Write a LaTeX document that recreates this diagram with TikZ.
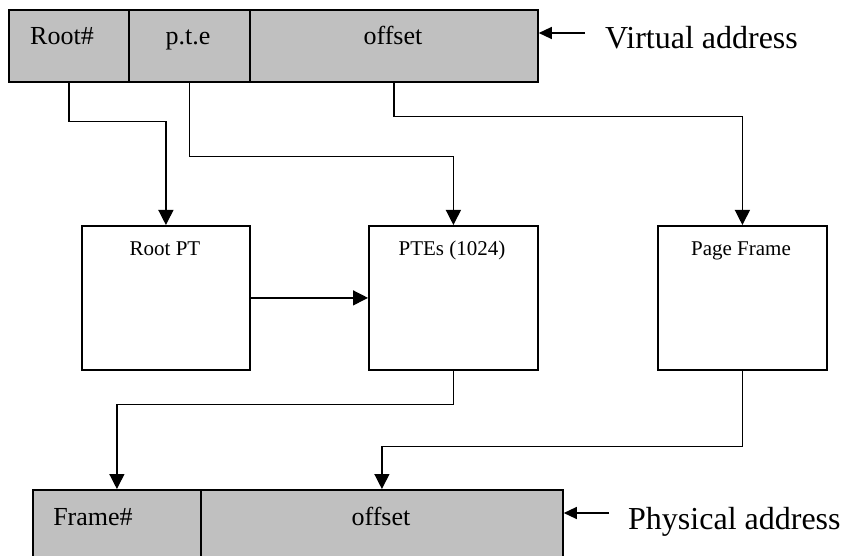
\documentclass[tikz,border=0pt]{standalone}
\usepackage{fontspec}
\setmainfont{Liberation Serif}
\usetikzlibrary{arrows.meta}
\definecolor{cellgray}{HTML}{C0C0C0}
\begin{document}
\begin{tikzpicture}[x=1pt,y=-1pt,
  cell/.style={draw,line width=1.8pt,fill=cellgray,inner sep=0pt,anchor=north west},
  tbox/.style={draw,line width=1.8pt,fill=white,inner sep=0pt,anchor=north west,minimum width=168pt,minimum height=144pt},
  barlabel/.style={inner sep=0pt,anchor=base,font=\fontsize{26}{30}\selectfont},
  boxlabel/.style={inner sep=0pt,anchor=base,font=\fontsize{21}{25}\selectfont},
  sidelabel/.style={inner sep=0pt,anchor=base west,font=\fontsize{32}{38}\selectfont},
  conn/.style={line width=1.3pt,-{Triangle[length=15pt,width=15pt]}},
  sidearr/.style={line width=1.3pt,-{Triangle[length=13pt,width=12pt]}}]
\clip (0,0) rectangle (841,556);
\fill[white] (0,0) rectangle (841,556);
% virtual address bar
\node[cell,minimum width=120pt,minimum height=72pt] (rootc) at (8,9) {};
\node[cell,minimum width=121pt,minimum height=72pt] (ptec) at (128,9) {};
\node[cell,minimum width=288pt,minimum height=72pt] (offc) at (249,9) {};
\node[barlabel] (rootl) at (62,45) {Root\#};
\node[barlabel] (ptel) at (188,45) {p.t.e};
\node[barlabel] (offl) at (393,45) {offset};
% boxes
\node[tbox] (rootpt) at (81,225) {};
\node[tbox,minimum width=169pt] (ptes) at (368,225) {};
\node[tbox,minimum width=169pt] (pframe) at (657,225) {};
\node[boxlabel] (rootptl) at (165,256) {Root PT};
\node[boxlabel] (ptesl) at (452,256) {PTEs (1024)};
\node[boxlabel] (pframel) at (741,256) {Page Frame};
% physical address bar
\node[cell,minimum width=168pt,minimum height=75pt] (framec) at (32,489) {};
\node[cell,minimum width=362pt,minimum height=75pt] (poffc) at (200,489) {};
\node[barlabel] (framel) at (93,525) {Frame\#};
\node[barlabel] (poffl) at (381,525) {offset};
% side labels
\coordinate (vaend) at (585,33);
\draw[sidearr] (vaend) -- (offc.north east |- vaend);
\node[sidelabel] (val) at (605,49) {Virtual address};
\coordinate (paend) at (609,513);
\draw[sidearr] (paend) -- (poffc.north east |- paend);
\node[sidelabel] (pal) at (628,529) {Physical address};
% connectors
\draw[conn] (rootc.south) -- ++(0,39) -| (rootpt.north);
\draw[conn] (ptec.south) -- ++(0,74) -| (ptes.north);
\draw[conn] (offc.south) -- ++(0,34) -| (pframe.north);
\draw[conn] (rootpt.east) -- (ptes.west);
\draw[conn] (ptes.south) -- ++(0,34) -| (framec.north);
\draw[conn] (pframe.south) -- ++(0,76) -| (poffc.north);
\end{tikzpicture}
\end{document}
